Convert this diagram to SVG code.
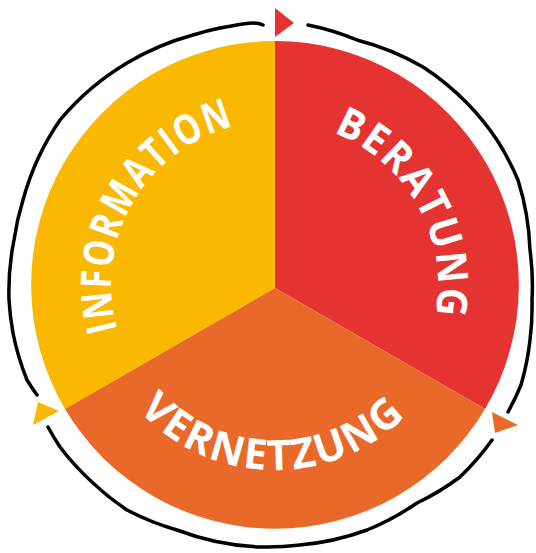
<svg xmlns="http://www.w3.org/2000/svg" xmlns:xlink="http://www.w3.org/1999/xlink" width="536" height="553" viewBox="0 0 536 553">
<style>
.lbl{fill:#ffffff;font-family:"Open Sans","Noto Sans","Liberation Sans",sans-serif;font-weight:700;font-size:42px;letter-spacing:2px}
.ring{fill:none;stroke:#000;stroke-width:3.5;stroke-linecap:round;stroke-linejoin:round}
.yel{fill:#FAB800}.red{fill:#E53331}.ora{fill:#E8692A}
</style>
<defs>
<path id="pInfo" d="M133,367 A164,164 0 0 1 275,121"/>
<path id="pBer" d="M277.8,122 A163,163 0 0 1 414.7,369"/>
<path id="pVer" d="M113.1,374.7 A185,185 0 0 0 433.6,380.3"/>
</defs>
<rect width="536" height="553" fill="#ffffff"/>
<g id="information">
<path class="yel" d="M275,288 L65,409 A244,244 0 0 1 275,41 Z"/>
<text class="lbl"><textPath href="#pInfo" xlink:href="#pInfo" startOffset="50%" text-anchor="middle" textLength="262" lengthAdjust="spacingAndGlyphs">INFORMATION</textPath></text>
</g>
<g id="beratung">
<path class="red" d="M275,288 L275,41 A244,244 0 0 1 485,409 Z"/>
<text class="lbl"><textPath href="#pBer" xlink:href="#pBer" startOffset="50%" text-anchor="middle" textLength="228" lengthAdjust="spacingAndGlyphs">BERATUNG</textPath></text>
</g>
<g id="vernetzung">
<path class="ora" d="M275,288 L485,409 A244,244 0 0 1 65,409 Z"/>
<text class="lbl"><textPath href="#pVer" xlink:href="#pVer" startOffset="50%" text-anchor="middle" textLength="300" lengthAdjust="spacingAndGlyphs">VERNETZUNG</textPath></text>
</g>
<g id="connectors">
<path class="ring" d="M37,395 A262,262 0 0 1 27,380 A262,262 0 0 1 13,333 A262,262 0 0 1 9,300 A262,262 0 0 1 14,240 A262,262 0 0 1 23,200 A262,262 0 0 1 60,120 A262,262 0 0 1 127,63 A262,262 0 0 1 193,35 A262,262 0 0 1 220,28 C232,26 245,23 253,23 C258,23 261,24 263,25"/>
<path class="ring" d="M308,25 A262,262 0 0 1 357,40 A262,262 0 0 1 423,67 A262,262 0 0 1 467,103 A262,262 0 0 1 497,140 A262,262 0 0 1 518,180 A262,262 0 0 1 530,250 A262,262 0 0 1 532,300 A262,262 0 0 1 530,340 A262,262 0 0 1 521,385 A262,262 0 0 1 508,412"/>
<path class="ring" d="M492,440 A262,262 0 0 1 460,477 A262,262 0 0 1 417,503 A262,262 0 0 1 367,530 A262,262 0 0 1 300,545 A262,262 0 0 1 260,547 A262,262 0 0 1 177,530 A262,262 0 0 1 127,510 A262,262 0 0 1 93,483 A262,262 0 0 1 60,447 A262,262 0 0 1 48,427"/>
<polygon class="red" points="275,8 294,23 275,37"/>
<polygon class="yel" points="38,402 59,411 33,425"/>
<polygon class="ora" points="492,412 518,425 495,433"/>
</g>
</svg>
